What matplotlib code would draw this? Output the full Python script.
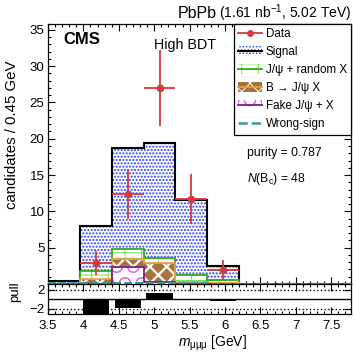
import numpy as np
import matplotlib
matplotlib.use("Agg")
import matplotlib.pyplot as plt
from matplotlib.patches import Patch
from matplotlib.lines import Line2D
from matplotlib.legend_handler import HandlerTuple
from matplotlib.ticker import MultipleLocator, FuncFormatter

plt.rcParams['font.family'] = ['Liberation Sans', 'DejaVu Sans']
plt.rcParams['mathtext.fontset'] = 'custom'
plt.rcParams['mathtext.rm'] = 'Liberation Sans'
plt.rcParams['mathtext.it'] = 'Liberation Sans:italic'
plt.rcParams['mathtext.bf'] = 'Liberation Sans:bold'
plt.rcParams['hatch.linewidth'] = 0.7

# binning: 0.45 GeV bins
edges = [3.5, 3.95, 4.4, 4.85, 5.3, 5.75, 6.2, 6.65, 7.1, 7.55, 8.0]

# stacked components (bottom -> top)
fake_jpsi = [0.0, 0.0, 2.33, 0.27, 0.0, 0.0, 0.0, 0.0, 0.0, 0.0]
b_jpsi_x = [0.0, 0.7, 1.15, 2.6, 0.3, 0.1, 0.0, 0.0, 0.0, 0.0]
jpsi_rand = [0.0, 1.1, 1.38, 0.7, 1.0, 0.4, 0.0, 0.0, 0.0, 0.0]
signal = [0.36, 6.2, 13.84, 15.83, 10.2, 1.96, 0.05, 0.05, 0.05, 0.05]
wrong_sign = [0.1, 0.2, 0.1, 0.1, 0.1, 0.05, 0.0, 0.0, 0.0, 0.0]

# data points
data_x = [4.175, 4.625, 5.075, 5.525, 5.975]
data_y = [2.9, 12.4, 27.0, 11.7, 1.9]
data_err_lo = [1.7, 3.4, 5.3, 3.4, 1.4]
data_err_hi = [1.7, 3.5, 5.2, 3.5, 1.35]

# pull per bin
pull_x = [4.175, 4.625, 5.075, 5.525, 5.975]
pull_y = [-3.4, -1.8, 1.3, 0.0, -0.35]

W, H = 353, 352


def px(x, y):
    return x / W, 1 - y / H


fig = plt.figure(figsize=(W / 100, H / 100), dpi=100)
ax = fig.add_axes([48 / W, 1 - 284 / H, 303 / W, 260 / H])
pax = fig.add_axes([48 / W, 1 - 314.3 / H, 303 / W, 30.3 / H], sharex=ax)

e = np.array(edges)
widths = np.diff(e)
comps = [
    # values, face, hatch colour, hatch, outline, outline width, hatch width
    (fake_jpsi, 'white', '#e070e0', 'O', '#7a1f80', 1.3, 0.7),
    (b_jpsi_x, '#a8733a', 'white', 'xx', '#e3a04a', 1.3, 1.6),
    (jpsi_rand, 'white', '#77dd55', '+--', '#33aa22', 1.3, 0.7),
    (signal, 'white', '#2a3cff', '.....', 'black', 1.5, 1.0),
]
cum = np.cumsum([c[0] for c in comps], axis=0)

# draw from the top of the stack down, like a THStack
for i in range(len(comps) - 1, -1, -1):
    vals, fc, hc, hatch, oc, lw, hlw = comps[i]
    z = 2 + (len(comps) - i)
    with plt.rc_context({'hatch.linewidth': hlw}):
        ax.bar(e[:-1], cum[i], width=widths, align='edge', facecolor=fc,
               edgecolor=hc, hatch=hatch, linewidth=0, zorder=z)
    ax.stairs(cum[i], e, baseline=0, color=oc, linewidth=lw, zorder=z + 0.5)

ax.stairs(wrong_sign, e, baseline=0, color='#3a9a9a', linestyle='--', linewidth=1.5, zorder=8)

red = '#d23c3c'
ax.errorbar(data_x, data_y, xerr=0.225, yerr=[data_err_lo, data_err_hi], fmt='o',
            color=red, ms=4.5, elinewidth=1.3, capsize=0, zorder=10)

ax.set_xlim(3.5, 7.78)
ax.set_ylim(0, 35.8)

for a in (ax, pax):
    a.tick_params(which='both', direction='in', top=True, right=True, width=0.8,
                  labelsize=9.5)
    a.tick_params(which='major', length=5)
    a.tick_params(which='minor', length=2.5)
    for s in a.spines.values():
        s.set_linewidth(0.9)

ax.xaxis.set_major_locator(MultipleLocator(0.5))
ax.xaxis.set_minor_locator(MultipleLocator(0.1))
ax.yaxis.set_major_locator(MultipleLocator(5))
ax.yaxis.set_minor_locator(MultipleLocator(1))
ax.yaxis.set_major_formatter(FuncFormatter(lambda v, p: '' if v < 1 else '%g' % v))
ax.tick_params(axis='x', labelbottom=False)
ax.tick_params(axis='y', pad=2.5)

# pull panel
pax.bar(pull_x, pull_y, width=0.37, color='black', linewidth=0, zorder=3)
pax.axhline(0, color='black', linewidth=1.0, zorder=4)
pax.axhline(2, color='black', linestyle=':', linewidth=1.0)
pax.axhline(-2, color='black', linestyle=':', linewidth=1.0)
pax.set_ylim(-3.2, 3.2)
pax.set_yticks([-2, 2])
pax.set_yticklabels(['\u22122', '2'])
pax.xaxis.set_major_formatter(FuncFormatter(lambda v, p: '%g' % v))
pax.tick_params(axis='x', pad=4)
pax.tick_params(axis='y', pad=2.5)

# axis titles
fig.text(*px(12, 135), 'candidates / 0.45 GeV', rotation=90, ha='center', va='center', fontsize=10.8)
fig.text(*px(15, 292), 'pull', rotation=90, ha='center', va='center', fontsize=9.5)
fig.text(*px(212, 347), r'$m_{\mathrm{\mu\mu\mu}}$ [GeV]', ha='center', va='baseline', fontsize=10)

# header
hdr = fig.text(*px(351, 18), r'(1.61 nb$^{-1}$, 5.02 TeV)', ha='right', va='baseline', fontsize=10)
r = fig.canvas.get_renderer()
bb = hdr.get_window_extent(r)
fig.text((bb.x0 - 2) / W, 1 - 18 / H, 'PbPb', ha='right', va='baseline', fontsize=11.5)

fig.text(*px(63, 44), 'CMS', fontweight='bold', fontsize=12, ha='left', va='baseline')
fig.text(*px(154, 49), 'High BDT', fontsize=10.3, ha='left', va='baseline')
fig.text(*px(247, 156), 'purity = 0.787', fontsize=8.8, ha='left', va='baseline')
fig.text(*px(247, 182), r'$N(\mathrm{B_c})$ = 48', fontsize=8.8, ha='left', va='baseline')

# legend
handles = [
    Line2D([], [], color=red, marker='o', ms=4, lw=1.3),
    (Patch(facecolor='white', edgecolor='#2a3cff', hatch='.....', lw=0), Line2D([], [], color='black', lw=1.5)),
    (Patch(facecolor='white', edgecolor='#77dd55', hatch='+--', lw=0), Line2D([], [], color='#33aa22', lw=1.3)),
    (Patch(facecolor='#a8733a', edgecolor='white', hatch='xx', lw=0), Line2D([], [], color='#e3a04a', lw=1.3)),
    (Patch(facecolor='white', edgecolor='#e070e0', hatch='O', lw=0), Line2D([], [], color='#7a1f80', lw=1.3)),
    Line2D([], [], color='#3a9a9a', ls='--', lw=1.8),
]
labels = ['Data', 'Signal', 'J/\u03c8 + random X', 'B \u2192 J/\u03c8 X', 'Fake J/\u03c8 + X', 'Wrong-sign']
leg = ax.legend(handles, labels, loc='upper right', bbox_to_anchor=(1, 1), borderaxespad=0,
                frameon=True, fancybox=False, edgecolor='black', framealpha=1, fontsize=8.4,
                handlelength=2.0, handleheight=0.9, handletextpad=0.35, borderpad=0.35,
                labelspacing=0.52, handler_map={tuple: HandlerTuple(ndivide=1)})
leg.get_frame().set_linewidth(0.9)
leg.set_zorder(20)

fig.savefig('out.png', dpi=100)
